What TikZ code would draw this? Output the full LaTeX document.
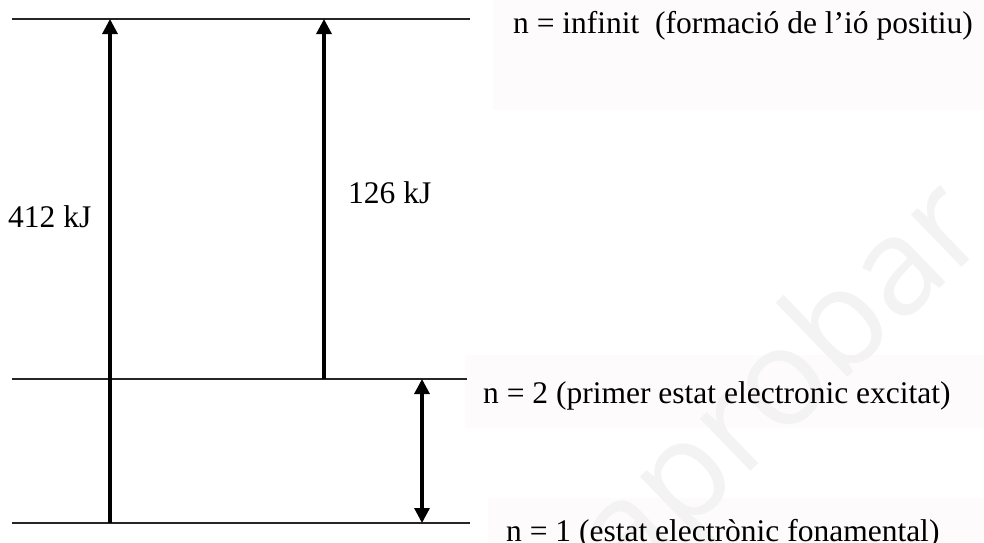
\documentclass[tikz,border=0pt]{standalone}
\usepackage{fontspec}
\setmainfont{Liberation Serif}
\newfontfamily\wmfont{Open Sans}
\usetikzlibrary{arrows.meta}
\definecolor{boxbg}{RGB}{253,251,251}
\definecolor{wmgray}{RGB}{243,243,243}
\tikzset{
  level/.style={line width=2pt, draw=black!85},
  jump/.style={line width=3.2pt, -{Triangle[length=15pt,width=15pt]}},
  bijump/.style={line width=3.2pt, {Triangle[length=15pt,width=15pt]}-{Triangle[length=15pt,width=15pt]}},
  lbl/.style={inner sep=0pt, font=\fontsize{31.5}{36}\selectfont},
  bgbox/.style={fill=boxbg, draw=none}
}
\begin{document}
\begin{tikzpicture}[x=1pt,y=-1pt]
\useasboundingbox[fill=white] (0,0) rectangle (984,542);
% faint label backgrounds
\fill[bgbox] (493,0) rectangle (984,110);
\fill[bgbox] (465,355) rectangle (984,428);
\fill[bgbox] (488,498) rectangle (984,542);
% watermark
\node[text=wmgray, font=\wmfont\fontsize{136}{150}\selectfont, rotate=44, inner sep=0pt] (wm) at (786,388) {aprobar};
% level end points
\coordinate (inf-l) at (12,19);  \coordinate (inf-r) at (470,19);
\coordinate (two-l) at (12,379); \coordinate (two-r) at (467,379);
\coordinate (one-l) at (12,523); \coordinate (one-r) at (470,523);
\coordinate (a1s) at (110,523); \coordinate (a1e) at (110,19);
\coordinate (a2s) at (324,379); \coordinate (a2e) at (324,19);
\coordinate (a3s) at (422,379); \coordinate (a3e) at (422,523);
% levels
\draw[level] (inf-l) -- (inf-r);
\draw[level] (two-l) -- (two-r);
\draw[level] (one-l) -- (one-r);
% transitions
\draw[jump] (a1s) -- (a1e);
\draw[jump] (a2s) -- (a2e);
\draw[bijump] (a3s) -- (a3e);
% labels
\node[lbl, anchor=base west] (tinf) at (513,33) {n = infinit\ \ (formació de l’ió positiu)};
\node[lbl, anchor=base west] (ttwo) at (483,403) {n = 2 (primer estat electronic excitat)};
\node[lbl, anchor=base west] (tone) at (506,541) {n = 1 (estat electrònic fonamental)};
\node[lbl, anchor=base west] (e412) at (8,227) {412 kJ};
\node[lbl, anchor=base west] (e126) at (348,203) {126 kJ};
\end{tikzpicture}
\end{document}
